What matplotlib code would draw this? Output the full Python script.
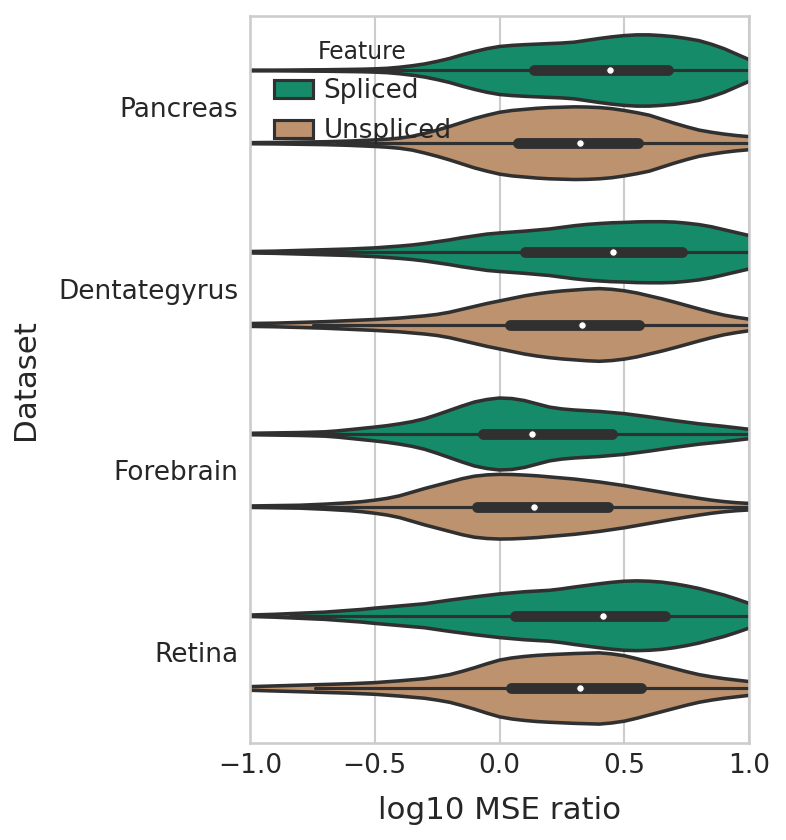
import matplotlib
matplotlib.use("Agg")
import matplotlib.pyplot as plt
import numpy as np
import seaborn as sns
from matplotlib.patches import Patch

# ── Data ──────────────────────────────────────────────────────────────

datasets = ["Pancreas", "Dentategyrus", "Forebrain", "Retina"]
features = ["Spliced", "Unspliced"]
colors = ["#158b6a", "#bd926e"]
line_gray = "#303030"

# log10 MSE ratio positions where the violin width was read
grid = [-1.00, -0.95, -0.90, -0.85, -0.80, -0.75, -0.70, -0.65, -0.60, -0.55,
        -0.50, -0.45, -0.40, -0.35, -0.30, -0.25, -0.20, -0.15, -0.10, -0.05,
        0.00, 0.05, 0.10, 0.15, 0.20, 0.25, 0.30, 0.35, 0.40, 0.45,
        0.50, 0.55, 0.60, 0.65, 0.70, 0.75, 0.80, 0.85, 0.90, 0.95, 1.00]

# half-width of each violin, relative to the widest one
pancreas_spliced = [
    0.01, 0.01, 0.01, 0.012, 0.015, 0.018, 0.02, 0.025, 0.03, 0.035,
    0.045, 0.06, 0.09, 0.13, 0.18, 0.25, 0.33, 0.43, 0.52, 0.60,
    0.66, 0.69, 0.71, 0.725, 0.74, 0.755, 0.78, 0.83, 0.88, 0.925,
    0.96, 0.98, 0.98, 0.96, 0.93, 0.88, 0.82, 0.72, 0.60, 0.45, 0.30]
pancreas_unspliced = [
    0.015, 0.018, 0.02, 0.025, 0.03, 0.035, 0.04, 0.05, 0.06, 0.075,
    0.09, 0.11, 0.14, 0.19, 0.27, 0.36, 0.46, 0.57, 0.68, 0.77,
    0.85, 0.90, 0.93, 0.96, 0.98, 0.99, 1.00, 0.995, 0.98, 0.95,
    0.90, 0.84, 0.77, 0.66, 0.55, 0.45, 0.36, 0.30, 0.25, 0.21, 0.18]
dentate_spliced = [
    0.02, 0.025, 0.03, 0.04, 0.05, 0.06, 0.07, 0.08, 0.09, 0.105,
    0.12, 0.145, 0.17, 0.20, 0.24, 0.29, 0.34, 0.40, 0.45, 0.50,
    0.53, 0.555, 0.58, 0.61, 0.64, 0.685, 0.73, 0.765, 0.79, 0.81,
    0.82, 0.835, 0.84, 0.84, 0.83, 0.80, 0.76, 0.70, 0.62, 0.54, 0.46]
dentate_unspliced = [
    0.04, 0.045, 0.05, 0.06, 0.07, 0.08, 0.09, 0.105, 0.12, 0.135,
    0.15, 0.17, 0.19, 0.22, 0.25, 0.29, 0.35, 0.43, 0.51, 0.59,
    0.66, 0.73, 0.80, 0.855, 0.90, 0.935, 0.96, 0.985, 1.00, 0.98,
    0.94, 0.88, 0.80, 0.72, 0.63, 0.535, 0.44, 0.35, 0.27, 0.21, 0.16]
forebrain_spliced = [
    0.02, 0.025, 0.03, 0.035, 0.04, 0.05, 0.06, 0.085, 0.12, 0.155,
    0.19, 0.23, 0.28, 0.34, 0.42, 0.53, 0.65, 0.77, 0.88, 0.95,
    0.99, 0.975, 0.92, 0.83, 0.74, 0.69, 0.66, 0.64, 0.62, 0.59,
    0.56, 0.515, 0.47, 0.42, 0.37, 0.325, 0.28, 0.245, 0.21, 0.17, 0.13]
forebrain_unspliced = [
    0.02, 0.025, 0.03, 0.035, 0.04, 0.055, 0.07, 0.09, 0.11, 0.14,
    0.18, 0.23, 0.30, 0.40, 0.50, 0.59, 0.68, 0.77, 0.84, 0.875,
    0.89, 0.885, 0.87, 0.85, 0.82, 0.79, 0.76, 0.72, 0.68, 0.63,
    0.58, 0.52, 0.46, 0.40, 0.34, 0.285, 0.23, 0.18, 0.14, 0.11, 0.09]
retina_spliced = [
    0.02, 0.03, 0.04, 0.055, 0.07, 0.085, 0.10, 0.125, 0.15, 0.175,
    0.21, 0.24, 0.27, 0.30, 0.33, 0.38, 0.43, 0.475, 0.52, 0.56,
    0.60, 0.63, 0.66, 0.68, 0.70, 0.74, 0.79, 0.835, 0.88, 0.92,
    0.95, 0.96, 0.95, 0.925, 0.88, 0.82, 0.75, 0.66, 0.57, 0.46, 0.34]
retina_unspliced = [
    0.05, 0.06, 0.07, 0.08, 0.09, 0.10, 0.11, 0.12, 0.13, 0.145,
    0.16, 0.185, 0.21, 0.24, 0.27, 0.32, 0.38, 0.47, 0.57, 0.68,
    0.78, 0.84, 0.88, 0.91, 0.93, 0.945, 0.96, 0.97, 0.98, 0.95,
    0.90, 0.82, 0.73, 0.64, 0.55, 0.46, 0.38, 0.32, 0.27, 0.23, 0.19]

profiles = [
    [pancreas_spliced, pancreas_unspliced],
    [dentate_spliced, dentate_unspliced],
    [forebrain_spliced, forebrain_unspliced],
    [retina_spliced, retina_unspliced],
]

# box statistics, order: Pancreas S, Pancreas U, Dentategyrus S, ... Retina U
q1 = [0.137, 0.074, 0.104, 0.041, -0.067, -0.090, 0.061, 0.045]
median = [0.444, 0.323, 0.456, 0.332, 0.132, 0.140, 0.416, 0.323]
q3 = [0.675, 0.555, 0.731, 0.559, 0.451, 0.435, 0.662, 0.566]
whisker_lo = [-0.66, -0.65, -0.84, -0.746, -0.82, -0.88, -0.84, -0.74]
whisker_hi = [1.48, 1.28, 1.67, 1.34, 1.23, 1.22, 1.56, 1.35]

# ── Plot ─────────────────────────────────────────────────────────────

sns.set_style("whitegrid")
plt.rcParams["font.family"] = ["DejaVu Sans"]
plt.rcParams["lines.solid_capstyle"] = "round"

fig = plt.figure(figsize=(5.24, 5.6), dpi=150)
ax = fig.add_axes([0.318, 0.1155, 0.635, 0.8655])

offsets = [-0.2, 0.2]
max_half = 0.2
x = np.array(grid)

k = 0
for i, ds in enumerate(datasets):
    for j, feat in enumerate(features):
        pos = i + offsets[j]
        hw = np.array(profiles[i][j]) * max_half
        ax.fill_between(x, pos - hw, pos + hw, facecolor=colors[j],
                        linewidth=0, zorder=1)
        ax.plot(x, pos - hw, color=line_gray, lw=1.7, zorder=1)
        ax.plot(x, pos + hw, color=line_gray, lw=1.7, zorder=1)
        ax.plot([whisker_lo[k], whisker_hi[k]], [pos, pos],
                color=line_gray, lw=1.5, zorder=2)
        ax.plot([q1[k], q3[k]], [pos, pos], color=line_gray, lw=5.2, zorder=2)
        ax.scatter([median[k]], [pos], s=13, color="white",
                   edgecolor=line_gray, linewidth=0.5, zorder=3)
        k += 1

ax.set_xlim(-1.0, 1.0)
ax.set_ylim(3.5, -0.5)
ax.set_xticks([-1.0, -0.5, 0.0, 0.5, 1.0])
ax.set_yticks(range(len(datasets)))
ax.set_yticklabels(datasets)
ax.yaxis.grid(False)
ax.xaxis.grid(True, color="#cccccc", lw=1)
ax.tick_params(axis="both", length=0, labelsize=12.7, colors="#262626")
ax.tick_params(axis="y", pad=5.5)
ax.tick_params(axis="x", pad=5)
for s in ax.spines.values():
    s.set_color("#cccccc")
    s.set_linewidth(1.25)

ax.set_xlabel("log10 MSE ratio", fontsize=14.8, color="#262626", labelpad=8)
ax.set_ylabel("Dataset", fontsize=14.8, color="#262626", labelpad=9)

handles = [Patch(facecolor=c, edgecolor=line_gray, linewidth=1.5) for c in colors]
leg = ax.legend(handles, features, title="Feature", loc="upper left",
                frameon=False, fontsize=12.6, title_fontsize=11.3,
                handlelength=1.5, handletextpad=0.4, labelspacing=0.55)
for t in leg.get_texts():
    t.set_color("#262626")
leg.get_title().set_color("#262626")

fig.savefig("out.png", dpi=150)
